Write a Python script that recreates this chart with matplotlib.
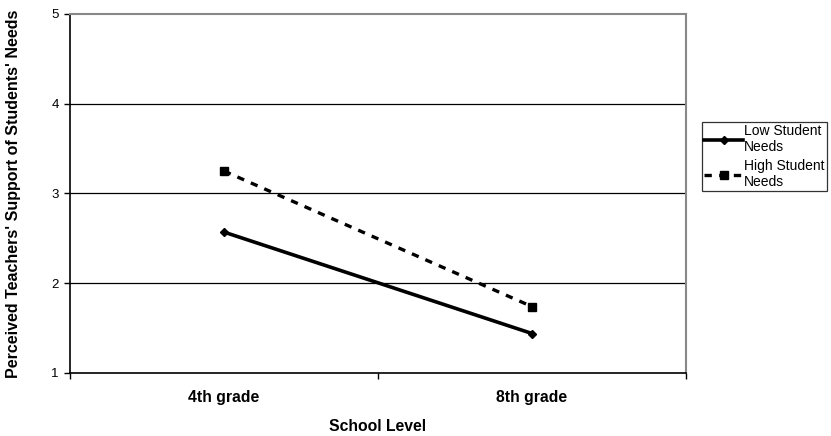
import matplotlib.pyplot as plt
import matplotlib.lines as mlines

plt.rcParams['font.family'] = ['Liberation Sans', 'DejaVu Sans']

grades = ["4th grade", "8th grade"]
low_needs = [2.57, 1.44]
high_needs = [3.25, 1.74]

fig = plt.figure(figsize=(8.31, 4.36), dpi=100)
ax = fig.add_axes([0.0842, 0.1445, 0.7413, 0.8234])

x = list(range(len(grades)))
low_style = dict(color="black", lw=2.6, marker="D", ms=4)
high_style = dict(color="black", lw=2.4, ls=(0, (2.2, 2.2)), marker="s", ms=5.5)
ax.plot(x, low_needs, zorder=3, **low_style)
ax.plot(x, high_needs, zorder=3, **high_style)

ax.set_xlim(-0.5, 1.5)
ax.set_ylim(1, 5)
ax.set_yticks([1, 2, 3, 4, 5])
ax.set_xticks([-0.5, 0.5, 1.5])
ax.set_xticklabels([])
ax.set_xticks(x, minor=True)
ax.set_xticklabels(grades, minor=True, fontsize=11.3, fontweight="bold")
ax.tick_params(axis="x", which="minor", length=0, pad=12)
ax.tick_params(axis="x", which="major", length=4, direction="out", width=1)
ax.tick_params(axis="y", length=4, direction="out", labelsize=9.5, pad=4, width=1)

for yv in [2, 3, 4]:
    ax.axhline(yv, color="black", lw=0.9, zorder=1)

for s in ["top", "right"]:
    ax.spines[s].set_color("#888888")
    ax.spines[s].set_linewidth(1.5)
for s in ["left", "bottom"]:
    ax.spines[s].set_color("black")
    ax.spines[s].set_linewidth(1.2)

ax.set_xlabel("School Level", fontsize=11.3, fontweight="bold", va="center")
ax.xaxis.set_label_coords(0.5, -54 / 359)
ax.set_ylabel("Perceived Teachers' Support of Students' Needs", fontsize=11.5,
              fontweight="bold", va="center")
ax.yaxis.set_label_coords(-56 / 616, 0.5)

h1 = mlines.Line2D([], [], **low_style)
h2 = mlines.Line2D([], [], **high_style)
leg = fig.legend([h1, h2], ["Low Student\nNeeds", "High Student\nNeeds"],
                 loc="upper left", bbox_to_anchor=(702 / 831, 1 - 122 / 436),
                 fontsize=10, frameon=True, fancybox=False, handlelength=2.8,
                 handletextpad=0.1, borderpad=0.15, labelspacing=0.35,
                 borderaxespad=0)
leg.get_frame().set_edgecolor("black")
leg.get_frame().set_linewidth(0.9)

fig.savefig("out.png", dpi=100)
